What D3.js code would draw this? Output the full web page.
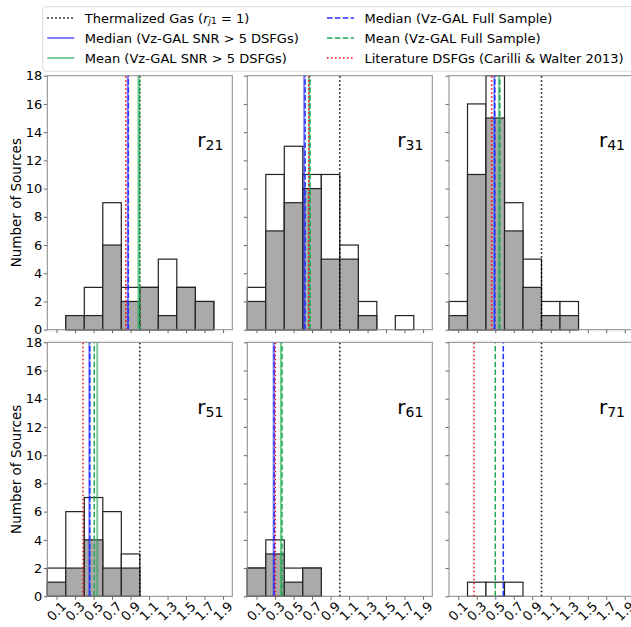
<!DOCTYPE html>
<html>
<head>
<meta charset="utf-8">
<script src="https://cdn.jsdelivr.net/npm/d3@7"></script>
<style>
  html, body { margin: 0; padding: 0; background: #fff; }
  svg { display: block; font-family: "DejaVu Sans", sans-serif; }
</style>
</head>
<body>
<div id="chart"></div>
<script>
// ---------------- data ----------------
const binEdges = [0.0, 0.2, 0.4, 0.6, 0.8, 1.0, 1.2, 1.4, 1.6, 1.8, 2.0];
const xTicks = [0.1, 0.3, 0.5, 0.7, 0.9, 1.1, 1.3, 1.5, 1.7, 1.9];
const yTicks = [0, 2, 4, 6, 8, 10, 12, 14, 16, 18];
const panelNames = ["21", "31", "41", "51", "61", "71"];

// counts per bin (full Vz-GAL sample = white bars, SNR>5 DSFGs = grey bars)
const full21 = [0, 1, 3, 9, 3, 3, 5, 3, 2, 0];
const snr21  = [0, 1, 1, 6, 2, 3, 1, 3, 2, 0];
const full31 = [3, 11, 13, 11, 11, 6, 2, 0, 1, 0];
const snr31  = [2, 7, 9, 10, 5, 5, 1, 0, 0, 0];
const full41 = [2, 16, 18, 9, 5, 2, 2, 0, 0, 0];
const snr41  = [1, 11, 15, 7, 3, 1, 1, 0, 0, 0];
const full51 = [2, 6, 7, 6, 3, 0, 0, 0, 0, 0];
const snr51  = [1, 2, 4, 2, 2, 0, 0, 0, 0, 0];
const full61 = [2, 4, 2, 2, 0, 0, 0, 0, 0, 0];
const snr61  = [2, 3, 1, 2, 0, 0, 0, 0, 0, 0];
const full71 = [0, 1, 1, 1, 0, 0, 0, 0, 0, 0];
const snr71  = [0, 0, 0, 0, 0, 0, 0, 0, 0, 0];

// reference lines per panel (r21, r31, r41, r51, r61, r71)
const thermalValue = 1.0;
const medianSNR  = [0.870, 0.615, 0.490, 0.454, 0.285, null];
const meanSNR    = [0.985, 0.668, 0.540, 0.540, 0.364, null];
const medianFull = [0.876, 0.625, 0.495, 0.460, 0.290, 0.587];
const meanFull   = [0.997, 0.678, 0.550, 0.508, 0.375, 0.500];
const literature = [0.848, 0.665, 0.461, 0.386, 0.303, 0.270];

const fullCounts = [full21, full31, full41, full51, full61, full71];
const snrCounts  = [snr21, snr31, snr41, snr51, snr61, snr71];

// ---------------- layout ----------------
const W = 631, H = 627;
const colLeft = [47.3, 247.3, 449];
const rowTop = [75.7, 342.3];
const pw = 185, ph = 254;

const styles = {
  thermal:    { color: "#000000", width: 1.5, dash: "1.5,2.5", opacity: 1 },
  medianSNR:  { color: "#0000ff", width: 2,   dash: null,      opacity: 0.5 },
  meanSNR:    { color: "#1fa855", width: 2,   dash: null,      opacity: 0.6 },
  medianFull: { color: "#2233ff", width: 1.5, dash: "5.5,2.4", opacity: 1 },
  meanFull:   { color: "#1fa855", width: 1.5, dash: "5.5,2.4", opacity: 1 },
  literature: { color: "#ff0000", width: 1.5, dash: "1.5,2.5", opacity: 1 }
};

const svg = d3.select("#chart").append("svg")
  .attr("width", W).attr("height", H);
svg.append("rect").attr("width", W).attr("height", H).attr("fill", "#fff");

panelNames.forEach((name, i) => {
  const col = i % 3, row = Math.floor(i / 3);
  const left = colLeft[col], top = rowTop[row];
  const x = d3.scaleLinear().domain([0, 2]).range([left, left + pw]);
  const y = d3.scaleLinear().domain([0, 18]).range([top + ph, top]);
  const g = svg.append("g");

  const bins = binEdges.slice(0, -1).map((e, k) => ({ x0: e, x1: binEdges[k + 1] }));

  // full sample (white)
  g.selectAll(".full").data(bins.map((b, k) => ({ ...b, c: fullCounts[i][k] })).filter(d => d.c > 0))
    .join("rect")
    .attr("x", d => x(d.x0)).attr("width", d => x(d.x1) - x(d.x0))
    .attr("y", d => y(d.c)).attr("height", d => y(0) - y(d.c))
    .attr("fill", "#ffffff").attr("stroke", "#222").attr("stroke-width", 1.2);

  // SNR>5 (grey)
  g.selectAll(".snr").data(bins.map((b, k) => ({ ...b, c: snrCounts[i][k] })).filter(d => d.c > 0))
    .join("rect")
    .attr("x", d => x(d.x0)).attr("width", d => x(d.x1) - x(d.x0))
    .attr("y", d => y(d.c)).attr("height", d => y(0) - y(d.c))
    .attr("fill", "#aaaaaa").attr("stroke", "#222").attr("stroke-width", 1.2);

  // vertical lines
  const vlines = [
    ["thermal", thermalValue],
    ["medianSNR", medianSNR[i]],
    ["meanSNR", meanSNR[i]],
    ["medianFull", medianFull[i]],
    ["meanFull", meanFull[i]],
    ["literature", literature[i]]
  ].filter(d => d[1] != null);
  vlines.forEach(([k, v]) => {
    const s = styles[k];
    g.append("line")
      .attr("x1", x(v)).attr("x2", x(v))
      .attr("y1", y(0)).attr("y2", y(18))
      .attr("stroke", s.color).attr("stroke-width", s.width)
      .attr("stroke-opacity", s.opacity)
      .attr("stroke-dasharray", s.dash);
  });

  // axes (ticks)
  const xAxis = d3.axisBottom(x).tickValues(xTicks).tickSize(3.5).tickFormat("");
  const gx = g.append("g").attr("transform", `translate(0,${top + ph})`).call(xAxis);
  gx.select(".domain").remove();
  gx.selectAll(".tick line").attr("stroke", "#666");

  if (row === 1) {
    xTicks.forEach(t => {
      g.append("text")
        .attr("transform", `translate(${x(t)},${top + ph + 15}) rotate(-45)`)
        .attr("text-anchor", "middle").attr("dominant-baseline", "central")
        .attr("font-size", 13).attr("fill", "#000")
        .text(d3.format(".1f")(t));
    });
  }

  const yAxis = d3.axisLeft(y).tickValues(yTicks).tickSize(3.5)
    .tickFormat(col === 0 ? d3.format("d") : "");
  const gy = g.append("g").attr("transform", `translate(${left},0)`).call(yAxis);
  gy.select(".domain").remove();
  gy.selectAll(".tick line").attr("stroke", "#666");
  gy.selectAll(".tick text").attr("font-size", 13).attr("fill", "#000")
    .attr("font-family", "DejaVu Sans").attr("x", -5);

  // frame
  g.append("rect")
    .attr("x", left).attr("y", top).attr("width", pw).attr("height", ph)
    .attr("fill", "none").attr("stroke", "#888").attr("stroke-width", 1);

  // panel label
  const lab = g.append("text")
    .attr("x", left + pw - 9).attr("y", top + 71.5)
    .attr("text-anchor", "end").attr("font-size", 20).attr("fill", "#000");
  lab.append("tspan").text("r");
  lab.append("tspan").attr("font-size", 14).attr("dy", 3).text(name);

  if (col === 0) {
    svg.append("text")
      .attr("transform", `translate(16,${top + ph / 2}) rotate(-90)`)
      .attr("text-anchor", "middle").attr("dominant-baseline", "central")
      .attr("font-size", 13.5).attr("fill", "#000")
      .text("Number of Sources");
  }
});

// ---------------- legend ----------------
const leg = svg.append("g");
leg.append("rect")
  .attr("x", 42.7).attr("y", 6.7).attr("width", 600).attr("height", 64.5)
  .attr("rx", 3).attr("fill", "#fff").attr("fill-opacity", 0.85)
  .attr("stroke", "#d8d8d8").attr("stroke-width", 1);

const legendItems = [
  { key: "thermal",    col: 0, row: 0 },
  { key: "medianSNR",  col: 0, row: 1, label: "Median (Vz-GAL SNR > 5 DSFGs)" },
  { key: "meanSNR",    col: 0, row: 2, label: "Mean (Vz-GAL SNR > 5 DSFGs)" },
  { key: "medianFull", col: 1, row: 0, label: "Median (Vz-GAL Full Sample)" },
  { key: "meanFull",   col: 1, row: 1, label: "Mean (Vz-GAL Full Sample)" },
  { key: "literature", col: 1, row: 2, label: "Literature DSFGs (Carilli & Walter 2013)" }
];
const legLineX = [47.3, 327];
const legRowY = [18, 38, 58];
legendItems.forEach(it => {
  const s = styles[it.key];
  const lx = legLineX[it.col], ly = legRowY[it.row];
  leg.append("line")
    .attr("x1", lx).attr("x2", lx + 27).attr("y1", ly).attr("y2", ly)
    .attr("stroke", s.color).attr("stroke-width", s.width)
    .attr("stroke-opacity", s.opacity).attr("stroke-dasharray", s.dash);
  const t = leg.append("text")
    .attr("x", lx + 37.5).attr("y", ly)
    .attr("dominant-baseline", "central")
    .attr("font-size", 13).attr("fill", "#000");
  if (it.key === "thermal") {
    t.append("tspan").text("Thermalized Gas (");
    t.append("tspan").attr("font-style", "italic").text("r");
    t.append("tspan").attr("font-size", 9).attr("dy", 3).attr("font-style", "italic").text("j");
    t.append("tspan").attr("font-size", 9).text("1");
    t.append("tspan").attr("dy", -3).text(" = 1)");
  } else {
    t.text(it.label);
  }
});
</script>
</body>
</html>
